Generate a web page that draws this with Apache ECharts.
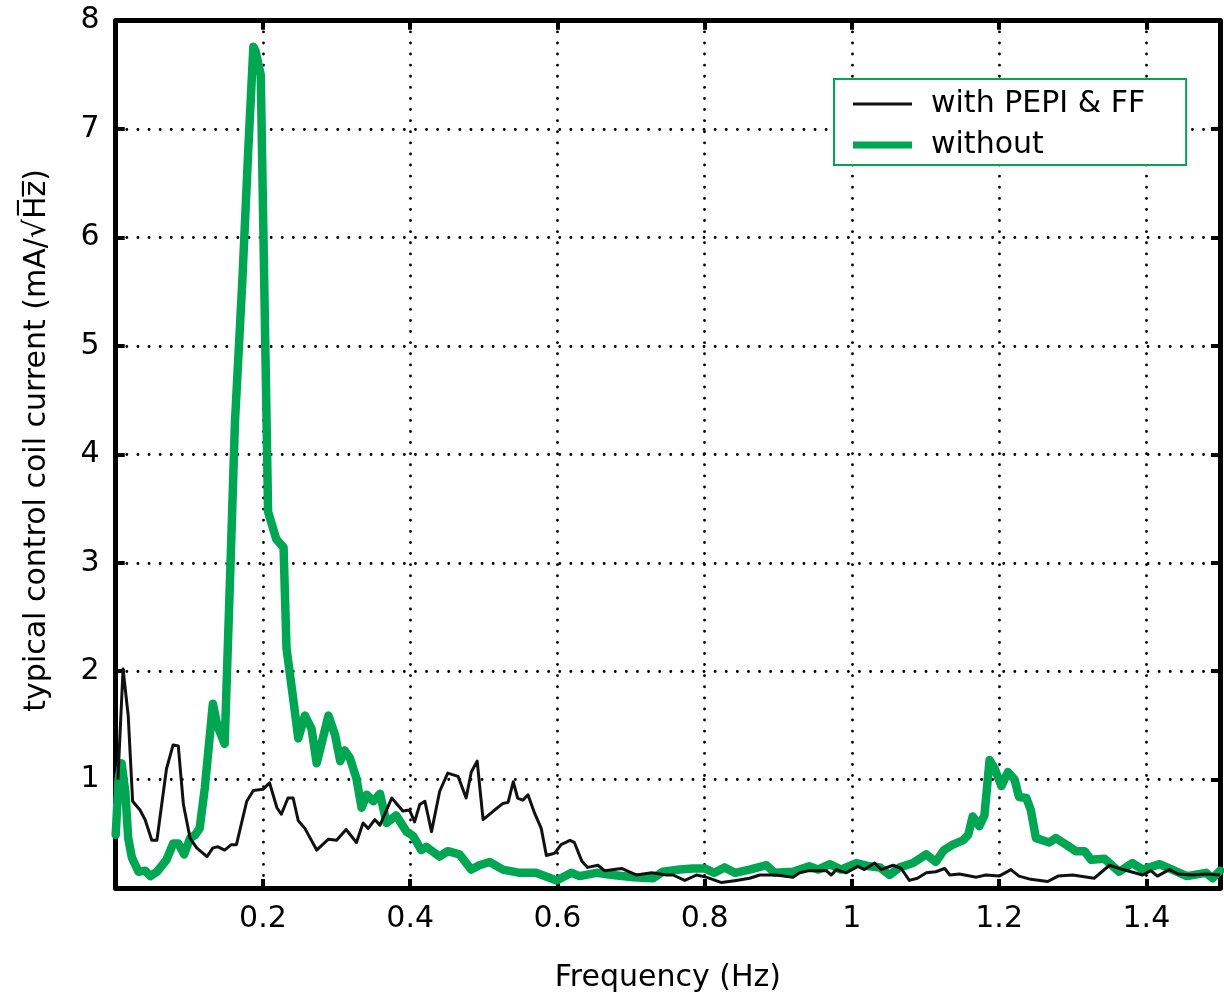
<!DOCTYPE html>
<html>
<head>
<meta charset="utf-8">
<script src="https://cdn.jsdelivr.net/npm/echarts@6/dist/echarts.min.js"></script>
<style>html,body{margin:0;padding:0;background:#fff}#c{width:1224px;height:998px}</style>
</head>
<body>
<div id="c"></div>
<script>
// ---- data ----
const xTicks = [0.2, 0.4, 0.6, 0.8, 1, 1.2, 1.4];
const yTicks = [1, 2, 3, 4, 5, 6, 7, 8];
const seriesNames = ['with PEPI & FF', 'without'];

const freqWith = [0.003,0.010,0.017,0.023,0.033,0.040,0.049,0.056,0.069,0.078,0.085,0.092,0.101,0.110,0.124,0.132,0.139,0.148,0.157,0.164,0.178,0.187,0.200,0.209,0.219,0.225,0.234,0.241,0.248,0.257,0.273,0.289,0.300,0.313,0.327,0.336,0.343,0.352,0.359,0.375,0.390,0.399,0.406,0.413,0.420,0.429,0.440,0.451,0.465,0.476,0.483,0.491,0.499,0.513,0.526,0.533,0.540,0.546,0.553,0.560,0.569,0.578,0.585,0.596,0.605,0.617,0.623,0.633,0.641,0.655,0.664,0.687,0.707,0.728,0.748,0.757,0.773,0.789,0.802,0.823,0.843,0.861,0.875,0.897,0.920,0.929,0.942,0.951,0.965,0.972,0.979,0.992,1.008,1.017,1.031,1.040,1.056,1.067,1.078,1.089,1.101,1.114,1.126,1.133,1.146,1.169,1.182,1.200,1.216,1.227,1.243,1.266,1.280,1.300,1.329,1.350,1.368,1.395,1.406,1.415,1.431,1.443,1.463,1.481,1.500];
const valWith = [1.00,2.02,1.59,0.80,0.72,0.63,0.44,0.44,1.10,1.32,1.31,0.77,0.46,0.37,0.29,0.37,0.38,0.35,0.40,0.40,0.80,0.90,0.91,0.97,0.74,0.68,0.83,0.83,0.62,0.55,0.35,0.45,0.44,0.54,0.42,0.60,0.55,0.63,0.58,0.83,0.71,0.72,0.61,0.77,0.80,0.52,0.89,1.06,1.03,0.83,1.07,1.17,0.63,0.71,0.78,0.79,0.98,0.83,0.81,0.86,0.69,0.55,0.30,0.32,0.40,0.44,0.42,0.25,0.19,0.21,0.16,0.18,0.12,0.14,0.12,0.12,0.07,0.12,0.10,0.05,0.07,0.09,0.12,0.12,0.10,0.14,0.16,0.16,0.16,0.12,0.17,0.14,0.20,0.17,0.23,0.17,0.21,0.18,0.07,0.09,0.14,0.15,0.18,0.12,0.13,0.10,0.12,0.11,0.17,0.11,0.08,0.06,0.11,0.12,0.09,0.21,0.17,0.12,0.16,0.11,0.17,0.13,0.12,0.13,0.12];

const freqWithout = [0.000,0.004,0.008,0.013,0.017,0.022,0.031,0.040,0.047,0.056,0.069,0.078,0.085,0.093,0.101,0.108,0.114,0.121,0.132,0.138,0.148,0.156,0.162,0.172,0.180,0.187,0.190,0.197,0.207,0.218,0.228,0.232,0.241,0.248,0.257,0.266,0.273,0.289,0.298,0.305,0.311,0.318,0.327,0.334,0.341,0.350,0.359,0.368,0.381,0.395,0.404,0.415,0.422,0.440,0.451,0.467,0.483,0.494,0.508,0.526,0.549,0.571,0.599,0.619,0.630,0.653,0.675,0.703,0.730,0.743,0.766,0.784,0.800,0.813,0.827,0.841,0.861,0.884,0.895,0.920,0.942,0.954,0.970,0.985,1.006,1.024,1.038,1.051,1.065,1.083,1.101,1.114,1.125,1.137,1.151,1.158,1.164,1.173,1.180,1.187,1.194,1.203,1.212,1.221,1.227,1.237,1.243,1.250,1.259,1.268,1.277,1.291,1.304,1.316,1.325,1.343,1.363,1.381,1.395,1.418,1.435,1.455,1.481,1.490,1.500];
const valWithout = [0.49,1.01,1.15,0.89,0.46,0.28,0.15,0.16,0.11,0.15,0.26,0.41,0.41,0.31,0.46,0.49,0.55,0.92,1.70,1.50,1.33,3.00,4.30,5.60,6.80,7.76,7.72,7.50,3.47,3.22,3.14,2.21,1.75,1.38,1.59,1.47,1.15,1.59,1.41,1.17,1.27,1.20,1.01,0.74,0.86,0.80,0.87,0.60,0.67,0.52,0.48,0.35,0.38,0.29,0.34,0.31,0.17,0.21,0.24,0.17,0.14,0.14,0.07,0.14,0.11,0.14,0.12,0.10,0.09,0.15,0.17,0.18,0.18,0.14,0.19,0.14,0.17,0.21,0.14,0.15,0.20,0.17,0.22,0.17,0.23,0.20,0.19,0.12,0.19,0.23,0.31,0.24,0.35,0.40,0.44,0.49,0.66,0.57,0.67,1.18,1.10,0.94,1.07,1.00,0.84,0.83,0.72,0.46,0.44,0.42,0.46,0.40,0.34,0.34,0.26,0.27,0.15,0.23,0.17,0.22,0.17,0.11,0.14,0.09,0.16];

// ---- chart ----
const GREEN = '#00a651';
const FONT = 'DejaVu Sans, Liberation Sans, Arial, sans-serif';
const FS = 30;
const pair = (xs, ys) => xs.map((x, i) => [x, ys[i]]);
const fmtX = v => { const r = Math.round(v * 10) / 10; return xTicks.indexOf(r) >= 0 ? String(r) : ''; };
const fmtY = v => yTicks.indexOf(Math.round(v)) >= 0 ? String(Math.round(v)) : '';
const gridDots = { show: true, lineStyle: { color: '#000', width: 2.8, type: [0.1, 11], cap: 'round' } };
const axLine = { show: true, onZero: false, lineStyle: { color: '#000', width: 5 } };
const tickIn = { show: true, inside: true, length: 9, lineStyle: { color: '#000', width: 4 } };

const chart = echarts.init(document.getElementById('c'), null, { renderer: 'canvas' });
chart.setOption({
  animation: false,
  backgroundColor: '#fff',
  textStyle: { fontFamily: FONT },
  grid: { left: 115.7, right: 4, top: 20.7, bottom: 108, containLabel: false },
  legend: {
    left: 834, top: 79,
    orient: 'vertical',
    data: [
      { name: seriesNames[0], icon: 'path://M0,0L59,0L59,0.001ZM0,5.5L59,5.5L59,8.5L0,8.5ZM0,14L59,14L59,14.001Z' },
      { name: seriesNames[1], icon: 'path://M0,0L59,0L59,0.001ZM0,3.5L59,3.5L59,10.5L0,10.5ZM0,14L59,14L59,14.001Z' }
    ],
    itemWidth: 59, itemHeight: 14, itemGap: 11,
    padding: [10, 41, 5, 19],
    borderColor: GREEN, borderWidth: 2, backgroundColor: '#fff',
    itemStyle: { borderWidth: 0 },
    textStyle: { fontFamily: FONT, fontSize: FS, color: '#000', lineHeight: 30, padding: [0, 0, 0, 14] }
  },
  xAxis: [
    {
      type: 'value', min: 0, max: 1.5, interval: 0.2,
      name: 'Frequency (Hz)', nameLocation: 'middle', nameGap: 75,
      nameTextStyle: { fontFamily: FONT, fontSize: FS, color: '#000' },
      axisLine: axLine, axisTick: tickIn,
      axisLabel: { fontFamily: FONT, fontSize: FS, color: '#000', margin: 16, formatter: fmtX },
      splitLine: gridDots
    },
    {
      type: 'value', position: 'top', min: 0, max: 1.5, interval: 0.2,
      axisLine: axLine, axisTick: tickIn, axisLabel: { show: false }, splitLine: { show: false }
    }
  ],
  yAxis: [
    {
      type: 'value', min: 0, max: 8, interval: 1,
      name: 'typical control coil current (mA/\u221AH\u0305z\u0305)', nameLocation: 'middle', nameGap: 63,
      nameTextStyle: { fontFamily: FONT, fontSize: FS, color: '#000', padding: [0, 0, 0, 28] },
      axisLine: axLine, axisTick: tickIn,
      axisLabel: { fontFamily: FONT, fontSize: FS, color: '#000', margin: 16, formatter: fmtY },
      splitLine: gridDots
    },
    {
      type: 'value', position: 'right', min: 0, max: 8, interval: 1,
      axisLine: axLine, axisTick: tickIn, axisLabel: { show: false }, splitLine: { show: false }
    }
  ],
  series: [
    {
      name: seriesNames[1], type: 'line', xAxisIndex: 0, yAxisIndex: 0,
      data: pair(freqWithout, valWithout), showSymbol: false, symbol: 'none',
      lineStyle: { color: GREEN, width: 8.5, join: 'round', cap: 'round' },
      itemStyle: { color: GREEN }, z: 2
    },
    {
      name: seriesNames[0], type: 'line', xAxisIndex: 0, yAxisIndex: 0,
      data: pair(freqWith, valWith), showSymbol: false, symbol: 'none',
      lineStyle: { color: '#111', width: 3, join: 'round' },
      itemStyle: { color: '#111' }, z: 3
    }
  ]
});
</script>
</body>
</html>
